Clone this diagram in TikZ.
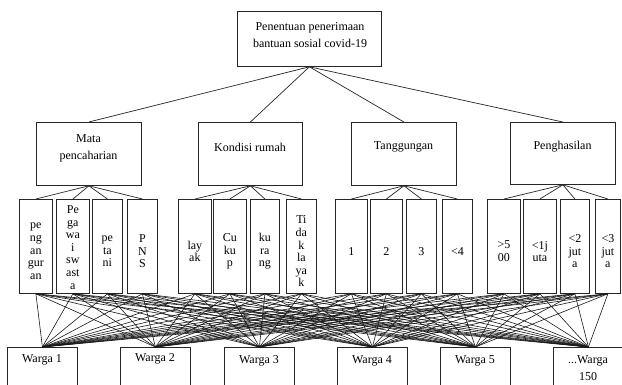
\documentclass[tikz,border=0pt]{standalone}
\usepackage{fontspec}
\setmainfont{Liberation Serif}
\begin{document}
\begin{tikzpicture}[x=1pt,y=-1pt,
  box/.style={draw=black!85, line width=0.8pt, rectangle, inner sep=0pt, anchor=north west},
  txt/.style={font=\fontsize{12}{16.5}\selectfont, align=center, inner sep=0pt},
  leaftxt/.style={font=\fontsize{12}{12.6}\selectfont, align=center, inner sep=0pt},
  link/.style={draw=black!85, line width=0.7pt},
  fan/.style={draw=black!90, line width=0.6pt}]
\useasboundingbox (0,0) rectangle (622,384);
\clip (0,0) rectangle (622,384);
\fill[white] (0,0) rectangle (622,384);

% top
\node[box, minimum width=144pt, minimum height=55pt] (top) at (237,11) {};
\node[txt] (ttop) at (310,35) {Penentuan penerimaan\\bantuan sosial covid-19};

% categories
\node[box, minimum width=105pt, minimum height=63pt] (c1) at (36,122) {};
\node[box, minimum width=104pt, minimum height=63pt] (c2) at (198,122) {};
\node[box, minimum width=105pt, minimum height=63pt] (c3) at (351,122) {};
\node[box, minimum width=105pt, minimum height=62pt] (c4) at (510,122) {};
\node[txt] (tc1) at (88.5,148.5) {Mata\\pencaharian};
\node[txt] (tc2) at (250,147) {Kondisi rumah};
\node[txt] (tc3) at (403.5,147) {Tanggungan};
\node[txt] (tc4) at (562.5,147) {Penghasilan};

% leaves
\foreach \n/\a/\b in {1/19/52,2/56/89,3/92/122,4/127/157,5/178/211,6/213/246,7/250/279,8/286/316,
  9/335/367,10/370/402,11/406/436,12/442/472,13/487/520,14/523/556,15/560/589,16/595/620}{
  \pgfmathsetmacro{\w}{\b-\a}
  \node[box, minimum width=\w pt, minimum height=94pt] (l\n) at (\a,199) {};
}
\node[leaftxt] (tl1) at ([yshift=-5pt]l1.center) {pe\\ng\\an\\gur\\an};
\node[leaftxt] (tl2) at ([yshift=-1pt]l2.center) {Pe\\ga\\wa\\i\\sw\\ast\\a};
\node[leaftxt] (tl3) at ([yshift=-5pt]l3.center) {pe\\ta\\ni};
\node[leaftxt] (tl4) at ([yshift=-5pt]l4.center) {P\\N\\S};
\node[leaftxt] (tl5) at ([yshift=-5pt]l5.center) {lay\\ak};
\node[leaftxt] (tl6) at ([yshift=-5pt]l6.center) {Cu\\ku\\p};
\node[leaftxt] (tl7) at ([yshift=-5pt]l7.center) {ku\\ra\\ng};
\node[leaftxt] (tl8) at ([yshift=-5pt]l8.center) {Ti\\da\\k\\la\\ya\\k};
\node[leaftxt] (tl9) at ([yshift=-5pt]l9.center) {1};
\node[leaftxt] (tl10) at ([yshift=-5pt]l10.center) {2};
\node[leaftxt] (tl11) at ([yshift=-5pt]l11.center) {3};
\node[leaftxt] (tl12) at ([yshift=-5pt]l12.center) {<4};
\node[leaftxt] (tl13) at ([yshift=-5pt]l13.center) {>5\\00};
\node[leaftxt] (tl14) at ([yshift=-5pt]l14.center) {<1j\\uta};
\node[leaftxt] (tl15) at ([yshift=-5pt]l15.center) {<2\\jut\\a};
\node[leaftxt] (tl16) at ([yshift=-5pt]l16.center) {<3\\jut\\a};

% wargas
\node[box, minimum width=70pt, minimum height=50pt] (w1) at (7,347) {};
\node[box, minimum width=70pt, minimum height=50pt] (w2) at (120,347) {};
\node[box, minimum width=70pt, minimum height=50pt] (w3) at (224,347) {};
\node[box, minimum width=70pt, minimum height=50pt] (w4) at (337,347) {};
\node[box, minimum width=70pt, minimum height=50pt] (w5) at (440,347) {};
\node[box, minimum width=70pt, minimum height=50pt] (w6) at (553,347) {};
\node[txt] (tw1) at (42,360) {Warga 1};
\node[txt] (tw2) at (155,359) {Warga 2};
\node[txt] (tw3) at (259,361) {Warga 3};
\node[txt] (tw4) at (372,361) {Warga 4};
\node[txt] (tw5) at (475,361) {Warga 5};
\node[txt] (tw6) at (588,368) {...Warga\\150};

% connectors
\foreach \c in {1,2,3,4}{\draw[link] (top.south) -- (c\c.north);}
\foreach \l in {1,2,3,4}{\draw[link] (c1.south) -- (l\l.north);}
\foreach \l in {5,6,7,8}{\draw[link] (c2.south) -- (l\l.north);}
\foreach \l in {9,10,11,12}{\draw[link] (c3.south) -- (l\l.north);}
\foreach \l in {13,14,15,16}{\draw[link] (c4.south) -- (l\l.north);}
\foreach \l in {1,...,16}{\foreach \w in {1,...,6}{\draw[fan] (l\l.south) -- (w\w.north);}}
\end{tikzpicture}
\end{document}
